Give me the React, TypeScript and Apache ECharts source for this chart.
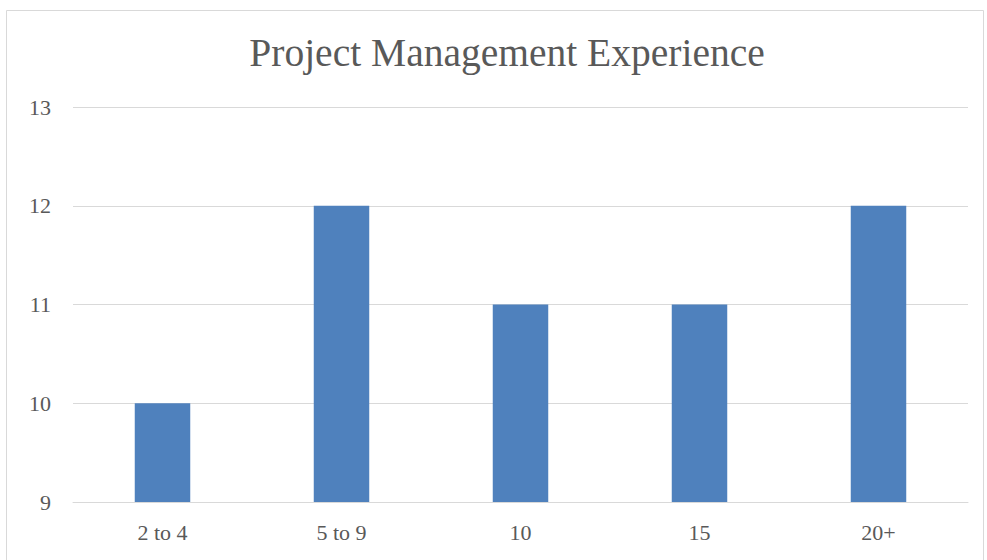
import React, { useEffect, useRef } from "react";
import * as echarts from "echarts";

const categories = ["2 to 4", "5 to 9", "10", "15", "20+"];
const values = [10, 12, 11, 11, 12];
const titleText = "Project Management Experience";

export default function App() {
  const ref = useRef<HTMLDivElement>(null);
  useEffect(() => {
    if (!ref.current) return;
    const chart = echarts.init(ref.current, undefined, { renderer: "svg" });
    const font = "'Liberation Serif', serif";
    chart.setOption({
      animation: false,
      backgroundColor: "#ffffff",
      graphic: [
        {
          type: "rect",
          shape: { x: 6.5, y: 10.5, width: 977, height: 570 },
          style: { fill: "none", stroke: "#d9d9d9", lineWidth: 1 },
          silent: true,
        },
      ],
      title: {
        text: titleText,
        left: 502,
        top: 28,
        textAlign: "center",
        textStyle: { fontFamily: font, fontSize: 39.5, fontWeight: "normal", color: "#595959" },
      },
      grid: { left: 73, right: 19, top: 107, bottom: 58, containLabel: false },
      xAxis: {
        type: "category",
        data: categories,
        axisLine: { show: true, lineStyle: { color: "#d9d9d9", width: 1 } },
        axisTick: { show: false },
        axisLabel: { fontFamily: font, fontSize: 22, color: "#595959", margin: 19 },
      },
      yAxis: {
        type: "value",
        min: 9,
        max: 13,
        interval: 1,
        axisLine: { show: false },
        axisTick: { show: false },
        axisLabel: { fontFamily: font, fontSize: 22, color: "#595959", margin: 22 },
        splitLine: { lineStyle: { color: "#d9d9d9", width: 1 } },
      },
      series: [
        {
          type: "bar",
          data: values,
          barWidth: "31%",
          itemStyle: { color: "#4F81BD" },
        },
      ],
    });
    return () => chart.dispose();
  }, []);
  return (
    <div
      ref={ref}
      style={{ position: "fixed", left: 0, top: 0, width: 987, height: 560 }}
    />
  );
}
